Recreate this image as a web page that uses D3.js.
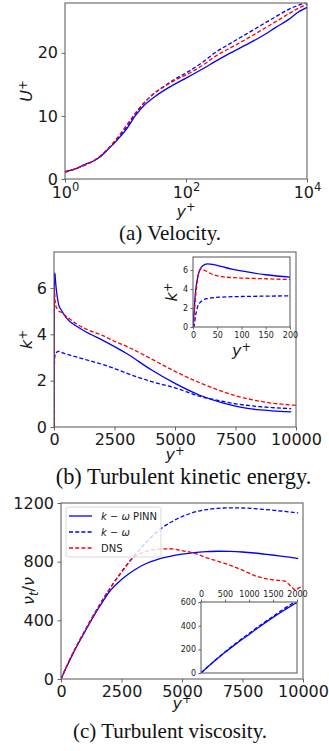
<!DOCTYPE html>
<html><head><meta charset="utf-8">
<script src="https://cdn.jsdelivr.net/npm/d3@7"></script>
<style>body{margin:0;background:#fff}svg{display:block}</style>
</head><body>
<svg id="c" width="329" height="751"></svg>
<script>
// ---------- data ----------
const uYPlus = [1,1.5,2,3,4,5,7,10,15,20,30,50,70,100,200,300,500,1000,2000,3000,5000,7000,10000];
const uPINN  = [1.2,1.6,2.2,2.9,3.7,4.6,6.0,7.7,10.2,11.6,13.0,14.4,15.2,16.0,17.6,18.6,19.8,21.3,22.9,24.0,25.3,26.4,27.2];
const uKW    = [1.1,1.6,2.1,2.9,3.7,4.6,6.1,8.0,10.5,12.0,13.6,15.1,16.0,16.8,18.7,20.0,21.3,23.0,24.7,25.7,26.9,27.5,28.0];
const uDNS   = [1.1,1.6,2.1,2.9,3.8,4.7,6.3,8.3,10.6,12.0,13.6,15.0,15.8,16.5,18.2,19.4,20.6,22.2,23.9,24.9,26.2,27.0,27.7];
const uXTicks = [1,100,10000];
const uYTicks = [0,10,20];

const kYPlus = [0,2,5,10,15,20,30,40,60,80,100,150,200,300,500,1000,1500,2000,2500,3000,4000,5000,6000,7000,7500,8000,9000,9800,10000];
const kPINN  = [0,1.5,3.6,5.3,6.1,6.45,6.65,6.6,6.35,6.1,5.9,5.5,5.25,5.05,4.72,4.3,4.0,3.75,3.47,3.17,2.48,1.88,1.38,1.03,0.9,0.8,0.7,0.65,null];
const kKW    = [0,0.05,1.1,2.2,2.6,2.82,3.0,3.08,3.15,3.19,3.21,3.25,3.27,3.22,3.15,3.0,2.85,2.7,2.52,2.32,1.97,1.69,1.33,1.1,1.0,0.93,0.84,0.79,null];
const kDNS   = [0,0.9,3.0,5.2,6.1,6.05,5.8,5.55,5.3,5.2,5.15,5.08,5.0,4.95,4.78,4.4,4.15,3.95,3.7,3.48,2.95,2.4,1.92,1.52,1.35,1.22,1.03,0.95,0.93];
const kXTicks = [0,2500,5000,7500,10000];
const kYTicks = [0,2,4,6];
const kInsetXTicks = [0,50,100,150,200];
const kInsetYTicks = [0,2,4,6];

const nYPlus = [0,250,500,750,1000,1250,1500,1750,2000,2500,3000,3500,4000,4500,5000,5500,6000,6500,7000,7500,8000,8500,9000,9250,9500,9700,9800,10000];
const nPINN  = [0,90,175,252,326,400,470,535,595,678,740,786,816,836,851,862,868,871,870,866,859,850,840,835,829,824,821,null];
const nKW    = [0,92,178,258,333,408,478,548,612,730,835,928,1008,1065,1107,1137,1155,1164,1167,1166,1161,1155,1147,1143,1138,1134,1132,null];
const nDNS   = [0,92,178,258,333,408,478,548,612,728,830,868,885,888,875,858,828,802,775,742,705,682,673,668,632,606,618,630];
const nXTicks = [0,2500,5000,7500,10000];
const nYTicks = [0,400,800,1200];
const nInsetXTicks = [0,500,1000,1500,2000];
const nInsetYTicks = [0,200,400,600];

const legendLabels = ["PINN","",""];
const captions = ["(a) Velocity.","(b) Turbulent kinetic energy.","(c) Turbulent viscosity."];

// ---------- helpers ----------
const svg = d3.select("#c");
const FRAME = "#555", TXT = "#1a1a1a";
const fmt = d => String(d);
let clipN = 0;
function clip(x0,y0,w,h){
  const id = "clip"+(clipN++);
  svg.append("clipPath").attr("id",id).append("rect").attr("x",x0).attr("y",y0).attr("width",w).attr("height",h);
  return "url(#"+id+")";
}
function drawSeries(xs, series, x, y, cp){
  const g = svg.append("g").attr("clip-path",cp);
  series.forEach(s=>{
    const line = d3.line()
      .defined((d,i)=>s.vals[i]!=null)
      .x((d,i)=>x(xs[i])).y((d,i)=>y(s.vals[i]))
      .curve(d3.curveMonotoneX);
    g.append("path").attr("d",line(xs)).attr("fill","none")
      .attr("stroke",s.color).attr("stroke-width",1.3)
      .attr("stroke-dasharray",s.dash?"4,2.2":null);
  });
}
function styleAxis(g,fs){
  g.select(".domain").remove();
  g.selectAll("line").attr("stroke",FRAME).attr("stroke-width",0.9);
  g.selectAll("text").attr("font-family","DejaVu Sans").attr("font-size",fs).attr("fill",TXT);
}
function frame(x0,y0,w,h){
  svg.append("rect").attr("x",x0).attr("y",y0).attr("width",w).attr("height",h)
    .attr("fill","none").attr("stroke",FRAME).attr("stroke-width",1);
}
function varLabel(x0,y0,parts,rot,fs){
  const t = svg.append("text").attr("font-family","DejaVu Sans").attr("font-size",fs)
    .attr("fill",TXT).attr("text-anchor","middle")
    .attr("transform",`translate(${x0},${y0})`+(rot?" rotate(-90)":""));
  parts.forEach(p=>{
    const ts = t.append("tspan").text(p.t);
    if(p.i) ts.attr("font-style","italic");
    if(p.s) ts.attr("font-size",p.s);
    if(p.dy) ts.attr("dy",p.dy);
  });
  return t;
}
function supPlus(letter){ return [{t:letter,i:true},{t:"+",s:11.5,dy:-5.5}]; }
const LBL = 16;
const C_BLUE="#0000ff", C_RED="#ff0000";

// ---------- (a) velocity ----------
{
  const L=65,R=307,T=3,B=179;
  const x=d3.scaleLog().domain([1,10000]).range([L,R]);
  const y=d3.scaleLinear().domain([0,27.9]).range([B,T]);
  drawSeries(uYPlus,[{vals:uPINN,color:C_BLUE},{vals:uKW,color:C_BLUE,dash:true},{vals:uDNS,color:C_RED,dash:true}],x,y,clip(L,T,R-L,B-T));
  const gx=svg.append("g").attr("transform",`translate(0,${B})`)
    .call(d3.axisBottom(x).tickValues(uXTicks).tickSize(3.5).tickPadding(3.5).tickFormat(""));
  styleAxis(gx,16);
  gx.selectAll(".tick").each(function(d){
    const t=d3.select(this).append("text").attr("y",18.5).attr("font-family","DejaVu Sans")
      .attr("font-size",16).attr("fill",TXT).attr("text-anchor","middle");
    t.append("tspan").text("10");
    t.append("tspan").text(String(Math.round(Math.log10(d)))).attr("font-size",11.5).attr("dy",-7);
  });
  const gy=svg.append("g").attr("transform",`translate(${L},0)`)
    .call(d3.axisLeft(y).tickValues(uYTicks).tickSize(3.5).tickPadding(3.5).tickFormat(fmt));
  styleAxis(gy,16);
  frame(L,T,R-L,B-T);
  varLabel((L+R)/2,216.5,supPlus("y"),false,LBL);
  varLabel(32,(T+B)/2,supPlus("U"),true,LBL);
  svg.append("text").attr("x",170).attr("y",240).attr("text-anchor","middle")
    .attr("font-family","Liberation Serif").attr("font-size",21).attr("fill","#111").text(captions[0]);
}

// ---------- (b) turbulent kinetic energy ----------
{
  const L=54,R=296,T=252,B=427;
  const x=d3.scaleLinear().domain([0,10000]).range([L,R]);
  const y=d3.scaleLinear().domain([0,7.55]).range([B,T]);
  const ser=[{vals:kPINN,color:C_BLUE},{vals:kKW,color:C_BLUE,dash:true},{vals:kDNS,color:C_RED,dash:true}];
  drawSeries(kYPlus,ser,x,y,clip(L,T,R-L,B-T));
  const gx=svg.append("g").attr("transform",`translate(0,${B})`)
    .call(d3.axisBottom(x).tickValues(kXTicks).tickSize(3.5).tickPadding(3.5).tickFormat(fmt));
  styleAxis(gx,16);
  const gy=svg.append("g").attr("transform",`translate(${L},0)`)
    .call(d3.axisLeft(y).tickValues(kYTicks).tickSize(3.5).tickPadding(3.5).tickFormat(fmt));
  styleAxis(gy,16);
  frame(L,T,R-L,B-T);
  varLabel((L+R)/2,460,supPlus("y"),false,LBL);
  varLabel(32,(T+B)/2,supPlus("k"),true,LBL);
  // inset
  const iL=193,iR=290,iT=257,iB=327;
  svg.append("rect").attr("x",iL).attr("y",iT).attr("width",iR-iL).attr("height",iB-iT).attr("fill","#fff");
  const xi=d3.scaleLinear().domain([0,200]).range([iL,iR]);
  const yi=d3.scaleLinear().domain([0,7.37]).range([iB,iT]);
  drawSeries(kYPlus,ser,xi,yi,clip(iL,iT,iR-iL,iB-iT));
  const gxi=svg.append("g").attr("transform",`translate(0,${iB})`)
    .call(d3.axisBottom(xi).tickValues(kInsetXTicks).tickSize(2.5).tickPadding(2.5).tickFormat(fmt));
  styleAxis(gxi,8);
  const gyi=svg.append("g").attr("transform",`translate(${iL},0)`)
    .call(d3.axisLeft(yi).tickValues(kInsetYTicks).tickSize(2.5).tickPadding(2.5).tickFormat(fmt));
  styleAxis(gyi,8);
  frame(iL,iT,iR-iL,iB-iT);
  varLabel((iL+iR)/2,356,supPlus("y"),false,LBL);
  varLabel(177,(iT+iB)/2,supPlus("k"),true,LBL);
  svg.append("text").attr("x",183.5).attr("y",484).attr("text-anchor","middle")
    .attr("font-family","Liberation Serif").attr("font-size",22.4).attr("fill","#111").text(captions[1]);
}

// ---------- (c) turbulent viscosity ----------
{
  const L=61,R=303,T=503,B=679;
  const x=d3.scaleLinear().domain([0,10000]).range([L,R]);
  const y=d3.scaleLinear().domain([0,1200]).range([B,T]);
  const ser=[{vals:nPINN,color:C_BLUE},{vals:nKW,color:C_BLUE,dash:true},{vals:nDNS,color:C_RED,dash:true}];
  drawSeries(nYPlus,ser,x,y,clip(L,T,R-L,B-T));
  const gx=svg.append("g").attr("transform",`translate(0,${B})`)
    .call(d3.axisBottom(x).tickValues(nXTicks).tickSize(3.5).tickPadding(3.5).tickFormat(fmt));
  styleAxis(gx,16);
  const gy=svg.append("g").attr("transform",`translate(${L},0)`)
    .call(d3.axisLeft(y).tickValues(nYTicks).tickSize(3.5).tickPadding(3.5).tickFormat(fmt));
  styleAxis(gy,16);
  frame(L,T,R-L,B-T);
  varLabel((L+R)/2,708.5,supPlus("y"),false,LBL);
  varLabel(34,(T+B)/2,[{t:"ν",i:true},{t:"t",i:true,s:11.5,dy:3.5},{t:"/",dy:-3.5},{t:"ν",i:true}],true,LBL);
  // legend
  const lg=svg.append("g");
  lg.append("rect").attr("x",66).attr("y",507).attr("width",95).attr("height",50).attr("rx",2.5)
    .attr("fill","#fff").attr("fill-opacity",0.8).attr("stroke","#cfcfcf").attr("stroke-width",0.8);
  const items=[
    {color:C_BLUE,dash:false,parts:[{t:"k",i:true},{t:" − "},{t:"ω",i:true},{t:" "+legendLabels[0]}]},
    {color:C_BLUE,dash:true,parts:[{t:"k",i:true},{t:" − "},{t:"ω",i:true}]},
    {color:C_RED,dash:true,parts:[{t:"DNS"}]}
  ];
  items.forEach((it,i)=>{
    const yy=516+i*16;
    lg.append("line").attr("x1",69).attr("x2",92).attr("y1",yy).attr("y2",yy)
      .attr("stroke",it.color).attr("stroke-width",1.3).attr("stroke-dasharray",it.dash?"4,2.2":null);
    const t=lg.append("text").attr("x",101).attr("y",yy+3.6).attr("font-family","DejaVu Sans")
      .attr("font-size",10).attr("fill",TXT);
    it.parts.forEach(p=>{const ts=t.append("tspan").text(p.t); if(p.i) ts.attr("font-style","italic");});
  });
  // inset
  const iL=201,iR=297,iT=602,iB=673;
  svg.append("rect").attr("x",iL).attr("y",iT).attr("width",iR-iL).attr("height",iB-iT).attr("fill","#fff");
  const xi=d3.scaleLinear().domain([0,2000]).range([iL,iR]);
  const yi=d3.scaleLinear().domain([0,600]).range([iB,iT]);
  drawSeries(nYPlus,[{vals:nPINN,color:C_BLUE},{vals:nKW,color:C_BLUE,dash:true}],xi,yi,clip(iL,iT,iR-iL,iB-iT));
  const gxi=svg.append("g").attr("transform",`translate(0,${iT})`)
    .call(d3.axisTop(xi).tickValues(nInsetXTicks).tickSize(2.5).tickPadding(2.5).tickFormat(fmt));
  styleAxis(gxi,8);
  const gyi=svg.append("g").attr("transform",`translate(${iL},0)`)
    .call(d3.axisLeft(yi).tickValues(nInsetYTicks).tickSize(2.5).tickPadding(2.5).tickFormat(fmt));
  styleAxis(gyi,8);
  frame(iL,iT,iR-iL,iB-iT);
  svg.append("text").attr("x",170).attr("y",738).attr("text-anchor","middle")
    .attr("font-family","Liberation Serif").attr("font-size",21).attr("fill","#111").text(captions[2]);
}
</script>
</body></html>
